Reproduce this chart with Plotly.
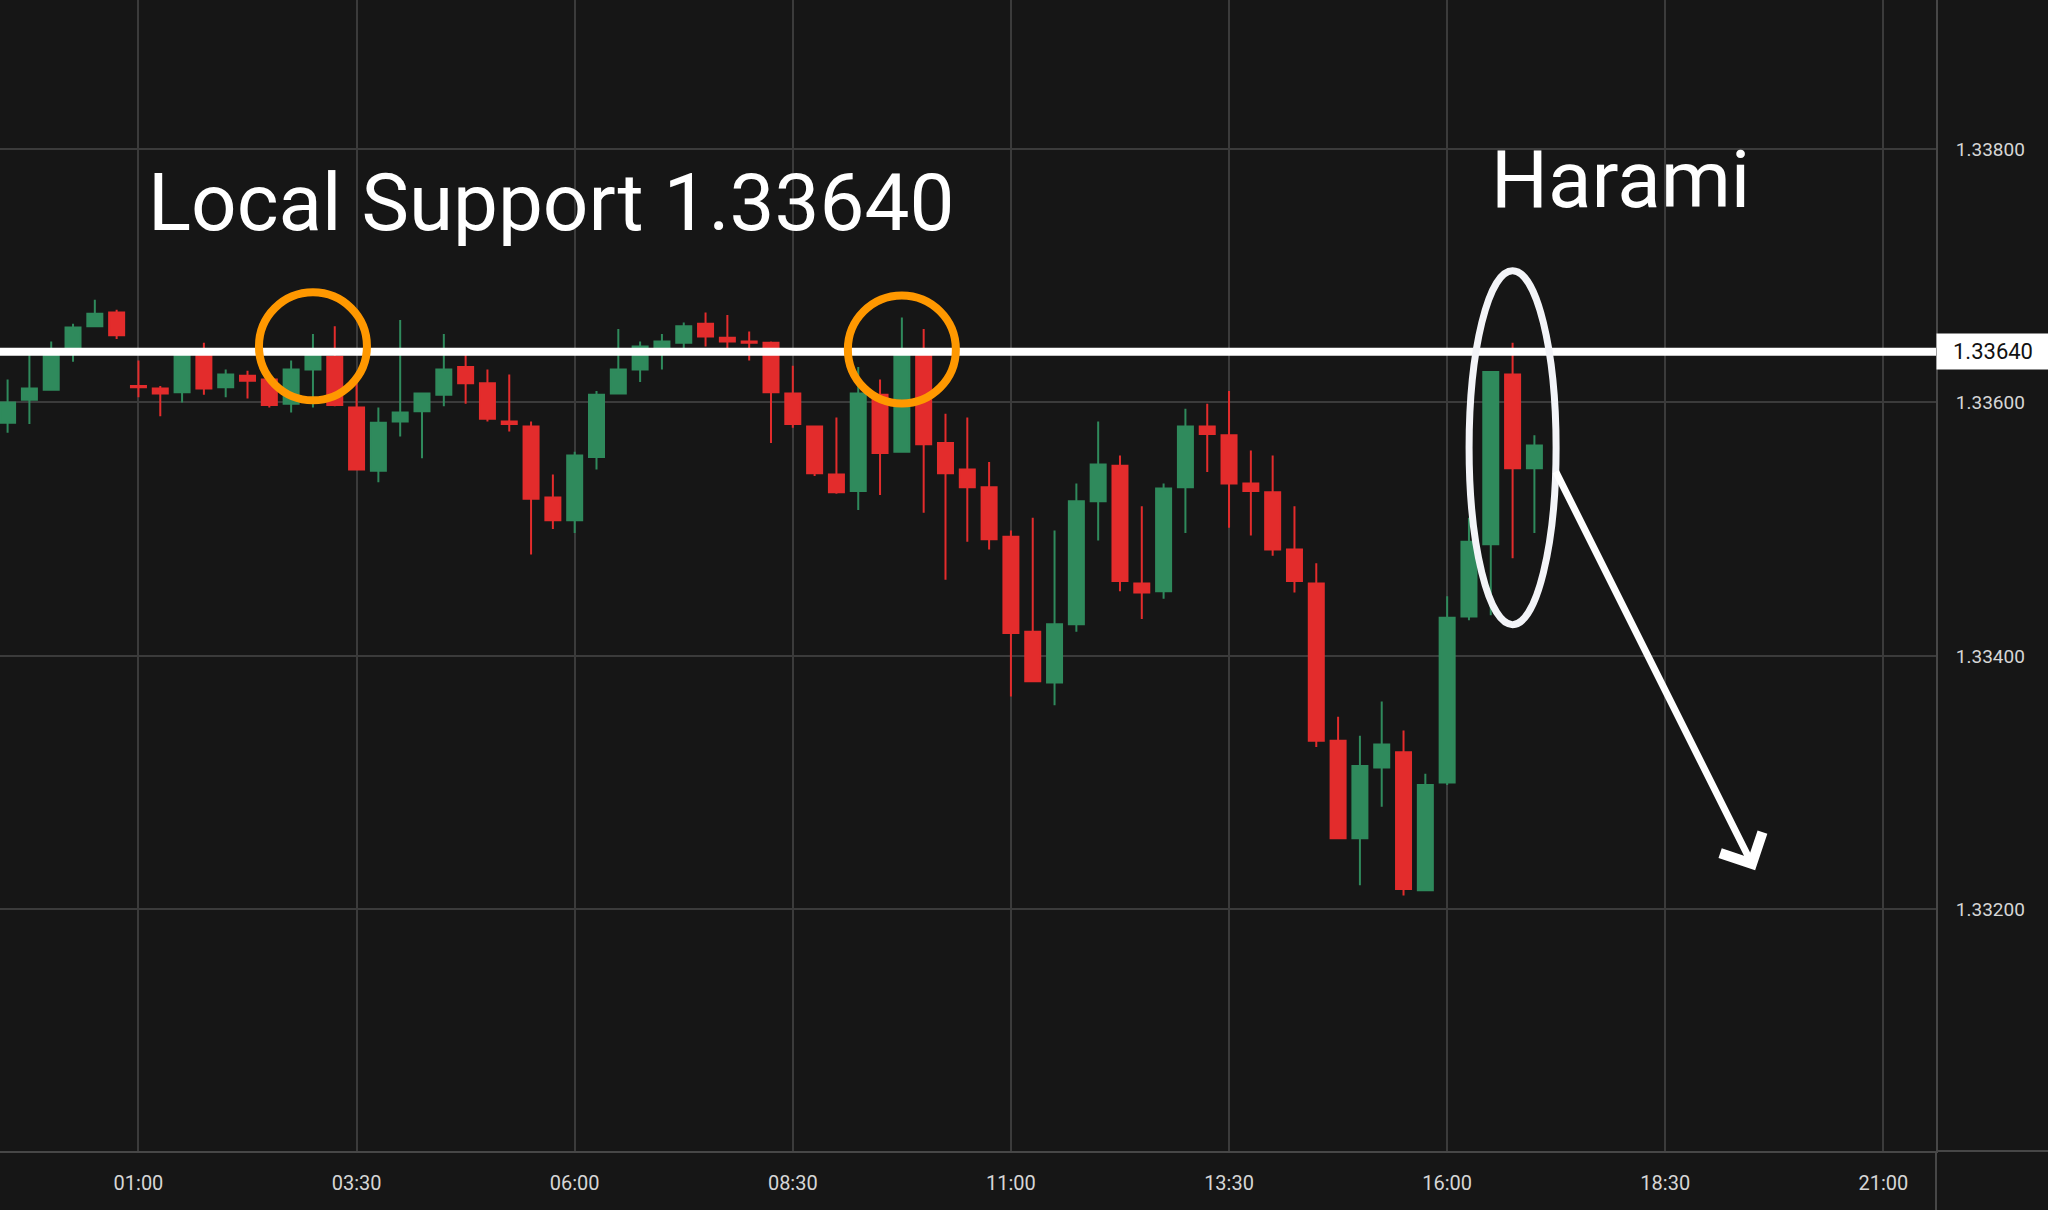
import pandas as pd
import plotly.graph_objects as go

# 15 minute candles, 23:30 -> 17:00
times = pd.date_range("2024-03-04 23:30", periods=71, freq="15min")

opens = [1.33584, 1.33602, 1.33610, 1.33641, 1.33660, 1.33671, 1.33613, 1.33611, 1.33608, 1.33640,
         1.33612, 1.33621, 1.33618, 1.33599, 1.33626, 1.33636, 1.33596, 1.33546, 1.33585, 1.33593,
         1.33606, 1.33628, 1.33615, 1.33585, 1.33581, 1.33525, 1.33507, 1.33557, 1.33607, 1.33626,
         1.33641, 1.33647, 1.33662, 1.33651, 1.33648, 1.33647, 1.33607, 1.33581, 1.33543, 1.33530,
         1.33606, 1.33561, 1.33641, 1.33568, 1.33547, 1.33533, 1.33494, 1.33419, 1.33379, 1.33425,
         1.33522, 1.33550, 1.33457, 1.33451, 1.33533, 1.33581, 1.33574, 1.33536, 1.33529, 1.33484,
         1.33457, 1.33333, 1.33256, 1.33312, 1.33324, 1.33215, 1.33300, 1.33431, 1.33488, 1.33622,
         1.33548]
highs = [1.33618, 1.33638, 1.33648, 1.33662, 1.33681, 1.33673, 1.33633, 1.33613, 1.33643, 1.33647,
         1.33626, 1.33625, 1.33622, 1.33633, 1.33654, 1.33660, 1.33615, 1.33596, 1.33665, 1.33607,
         1.33654, 1.33640, 1.33626, 1.33622, 1.33585, 1.33543, 1.33561, 1.33609, 1.33658, 1.33648,
         1.33654, 1.33663, 1.33671, 1.33669, 1.33656, 1.33648, 1.33629, 1.33581, 1.33588, 1.33628,
         1.33618, 1.33667, 1.33658, 1.33591, 1.33588, 1.33553, 1.33499, 1.33509, 1.33499, 1.33536,
         1.33585, 1.33558, 1.33518, 1.33536, 1.33595, 1.33599, 1.33609, 1.33562, 1.33558, 1.33518,
         1.33473, 1.33352, 1.33337, 1.33364, 1.33341, 1.33307, 1.33447, 1.33509, 1.33624, 1.33647,
         1.33574]
lows = [1.33576, 1.33583, 1.33610, 1.33632, 1.33660, 1.33650, 1.33604, 1.33589, 1.33600, 1.33606,
        1.33604, 1.33603, 1.33596, 1.33592, 1.33596, 1.33597, 1.33547, 1.33537, 1.33573, 1.33556,
        1.33597, 1.33599, 1.33585, 1.33577, 1.33480, 1.33500, 1.33497, 1.33547, 1.33607, 1.33616,
        1.33626, 1.33643, 1.33644, 1.33643, 1.33633, 1.33568, 1.33580, 1.33542, 1.33528, 1.33515,
        1.33527, 1.33561, 1.33513, 1.33460, 1.33490, 1.33484, 1.33368, 1.33380, 1.33361, 1.33419,
        1.33491, 1.33451, 1.33429, 1.33445, 1.33497, 1.33545, 1.33501, 1.33495, 1.33479, 1.33450,
        1.33328, 1.33256, 1.33219, 1.33281, 1.33211, 1.33215, 1.33298, 1.33428, 1.33432, 1.33477,
        1.33497]
closes = [1.33600, 1.33611, 1.33642, 1.33659, 1.33670, 1.33653, 1.33612, 1.33607, 1.33640, 1.33611,
          1.33622, 1.33617, 1.33598, 1.33626, 1.33637, 1.33598, 1.33547, 1.33584, 1.33592, 1.33607,
          1.33626, 1.33615, 1.33587, 1.33583, 1.33524, 1.33507, 1.33558, 1.33606, 1.33626, 1.33644,
          1.33648, 1.33660, 1.33652, 1.33648, 1.33647, 1.33608, 1.33583, 1.33544, 1.33529, 1.33607,
          1.33560, 1.33641, 1.33567, 1.33544, 1.33533, 1.33492, 1.33418, 1.33380, 1.33425, 1.33522,
          1.33551, 1.33459, 1.33450, 1.33532, 1.33581, 1.33575, 1.33536, 1.33530, 1.33484, 1.33459,
          1.33333, 1.33256, 1.33313, 1.33330, 1.33216, 1.33298, 1.33430, 1.33490, 1.33624, 1.33548,
          1.33566]

price_ticks = [1.332, 1.334, 1.336, 1.338]
time_ticks = ["2024-03-05 01:00", "2024-03-05 03:30", "2024-03-05 06:00", "2024-03-05 08:30",
              "2024-03-05 11:00", "2024-03-05 13:30", "2024-03-05 16:00", "2024-03-05 18:30",
              "2024-03-05 21:00"]
time_labels = ["01:00", "03:30", "06:00", "08:30", "11:00", "13:30", "16:00", "18:30", "21:00"]

support = 1.3364

BG = "#161616"
GRID = "#3b3b3b"
AXIS = "#474747"
GREEN = "#2f8a5c"
RED = "#e32c2c"

fig = go.Figure()
fig.add_trace(go.Candlestick(
    x=times, open=opens, high=highs, low=lows, close=closes,
    increasing=dict(line=dict(color=GREEN, width=2), fillcolor=GREEN),
    decreasing=dict(line=dict(color=RED, width=2), fillcolor=RED),
    hoverinfo="skip",
))

# support line + price tag
fig.add_shape(type="line", xref="paper", x0=0, x1=1, yref="y", y0=support, y1=support,
              line=dict(color="white", width=8))
fig.add_annotation(xref="paper", x=1, xanchor="left", yref="y", y=support, text="1.33640",
                   showarrow=False, bgcolor="white", width=112, height=35, borderpad=0,
                   font=dict(size=22, color="#111111"))

# orange touches of the support
for t, p in [("2024-03-05 03:00", 1.336442), ("2024-03-05 09:45", 1.336418)]:
    fig.add_shape(type="circle", xref="x", yref="y", xsizemode="pixel", ysizemode="pixel",
                  xanchor=t, yanchor=p, x0=-54, x1=54, y0=-54, y1=54,
                  line=dict(color="#ff9800", width=8))

# harami ellipse
fig.add_shape(type="circle", xref="x", yref="y", xsizemode="pixel", ysizemode="pixel",
              xanchor="2024-03-05 16:45", yanchor=1.335643, x0=-43.5, x1=43.5, y0=-177, y1=177,
              line=dict(color="#f3f4f8", width=7))

# down arrow
fig.add_annotation(x="2024-03-05 19:31:48", y=1.332308, ax="2024-03-05 17:14:10", ay=1.335466,
                   xref="x", yref="y", axref="x", ayref="y", text="", showarrow=True,
                   arrowhead=4, arrowsize=1.3, arrowwidth=7, arrowcolor="white")

fig.add_annotation(x="2024-03-05 01:05:12", y=1.337575, xanchor="left", yanchor="middle",
                   text="Local Support 1.33640", showarrow=False,
                   font=dict(size=80, color="white"))
fig.add_annotation(x="2024-03-05 16:28:48", y=1.337755, xanchor="left", yanchor="middle",
                   text="Harami", showarrow=False,
                   font=dict(size=80, color="white"))

# axis lines running into the margins
fig.add_shape(type="line", xref="paper", x0=1, x1=1.06, yref="paper", y0=0, y1=0,
              line=dict(color=AXIS, width=2))
fig.add_shape(type="line", xref="paper", x0=1, x1=1, yref="paper", y0=0, y1=-0.06,
              line=dict(color=AXIS, width=2))

fig.update_layout(
    width=2048, height=1210,
    paper_bgcolor=BG, plot_bgcolor=BG,
    margin=dict(l=0, r=112, t=0, b=59),
    showlegend=False,
    boxgap=0.2, boxgroupgap=0.14,
    font=dict(family="Roboto", color="#d6d6d6"),
    xaxis=dict(type="date", range=["2024-03-04 23:24:47", "2024-03-05 21:36:11"],
               tickvals=time_ticks, ticktext=time_labels, showgrid=True, gridcolor=GRID,
               gridwidth=2, showline=True, linecolor=AXIS, linewidth=2, ticks="",
               zeroline=False, tickfont=dict(size=20, color="#d6d6d6"),
               ticklabelstandoff=13, rangeslider=dict(visible=False)),
    yaxis=dict(side="right", range=[1.330093, 1.339175], tickvals=price_ticks,
               tickformat=".5f", showgrid=True, gridcolor=GRID, gridwidth=2,
               showline=True, linecolor=AXIS, linewidth=2, ticks="", zeroline=False,
               tickfont=dict(size=19, color="#d6d6d6"), ticklabelstandoff=14),
)

fig.write_html("out.html", config={"displayModeBar": False},
               post_script="document.body.style.margin='0';")
